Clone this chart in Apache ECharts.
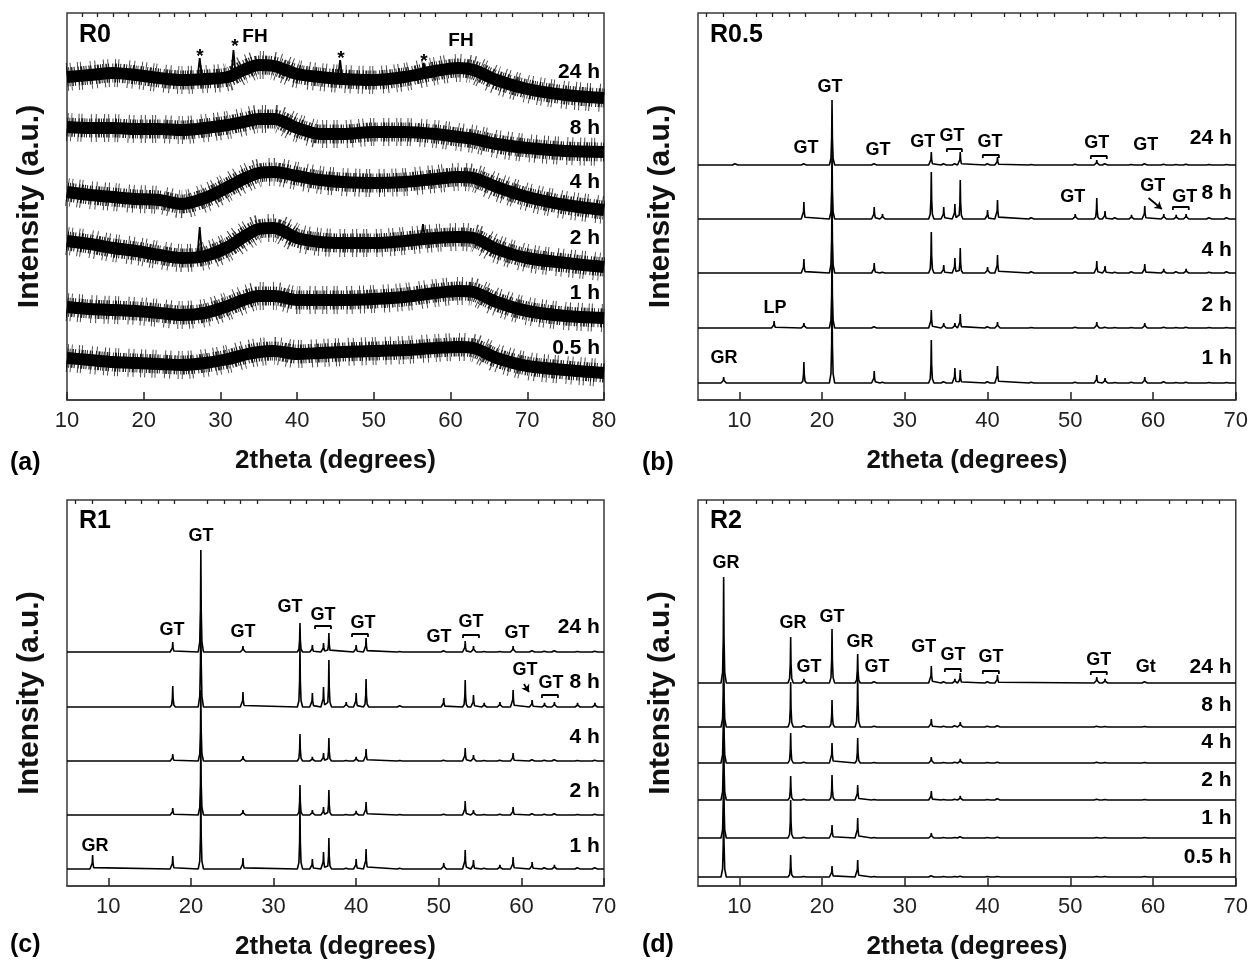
<!DOCTYPE html>
<html><head><meta charset="utf-8">
<script src="https://cdn.jsdelivr.net/npm/echarts@6/dist/echarts.min.js"></script>
<style>html,body{margin:0;padding:0;background:#fff}#c{width:1251px;height:962px}</style>
</head><body><div id="c"></div>
<script>
const FONT = "'Liberation Sans', Arial, Helvetica, sans-serif";
const INK = '#000';

// ---------- tick labels ----------
const ticksA = [10, 20, 30, 40, 50, 60, 70, 80];
const minorA = [12, 14, 16, 18, 22, 24, 26, 28, 32, 34, 36, 38, 42, 44, 46, 48, 52, 54, 56, 58, 62, 64, 66, 68, 72, 74, 76, 78];
const ticksB = [10, 20, 30, 40, 50, 60, 70];
const minorB = [6, 8, 12, 14, 16, 18, 22, 24, 26, 28, 32, 34, 36, 38, 42, 44, 46, 48, 52, 54, 56, 58, 62, 64, 66, 68];

// ---------- (a) R0 : broad ferrihydrite humps ----------
const r0Times = ['24 h', '8 h', '4 h', '2 h', '1 h', '0.5 h'];
const r0Theta = [10, 13, 16, 19, 22, 25, 28, 31, 33, 35, 37, 40, 43, 46, 50, 54, 58, 61, 63, 66, 70, 75, 80];
const r0_24h = [323, 325, 327, 325, 322, 320, 321, 323, 330, 335, 334, 326, 323, 321, 320, 323, 329, 332, 330, 320, 311, 305, 302];
const r0_8h  = [273, 272, 272, 271, 271, 270, 272, 275, 278, 281, 281, 272, 266, 266, 268, 268, 266, 263, 261, 256, 252, 249, 248];
const r0_4h  = [208, 205, 203, 201, 200, 196, 202, 213, 221, 227, 228, 224, 220, 218, 217, 218, 221, 223, 222, 213, 203, 195, 190];
const r0_2h  = [159, 156, 152, 149, 145, 142, 144, 153, 163, 171, 172, 162, 158, 157, 157, 159, 162, 163, 162, 151, 142, 137, 133];
const r0_1h  = [93, 91, 90, 89, 87, 85, 87, 94, 100, 104, 104, 100, 100, 100, 101, 103, 107, 109, 108, 98, 89, 84, 82];
const r0_05h = [42, 40, 38, 37, 36, 35, 37, 41, 45, 48, 49, 46, 47, 48, 49, 50, 52, 53, 52, 42, 34, 30, 27];
// sharp reflections (*): [2theta, base, top]
const r0Spikes = [[27.3, 321, 342], [31.7, 323, 350], [45.6, 321, 340], [56.5, 323, 337], [27.3, 144, 173], [56.4, 159, 176]];
const annotA = [[27.34, 343, '*'], [31.9, 353, '*'], [45.72, 341, '*'], [56.54, 338, '*'], [34.51, 363, 'FH'], [61.36, 359, 'FH']];
const timeA = [[79.48, 328, '24 h'], [79.48, 272, '8 h'], [79.48, 218, '4 h'], [79.48, 162, '2 h'], [79.48, 107, '1 h'], [79.48, 52, '0.5 h']];

// ---------- (b) R0.5 ----------
const bTimes = ['24 h', '8 h', '4 h', '2 h', '1 h'];
const bBase = [235, 181, 127, 72, 17];
const bPeaks = [8.1, 9.5, 14.2, 17.8, 21.2, 26.3, 27.3, 33.2, 34.7, 36.05, 36.7, 40.0, 41.2, 45.3, 50.6, 53.2, 54.2, 55.4, 57.4, 59.0, 61.3, 62.8, 64.0, 66.8, 68.9];
const b_24h = [0, 3, 0, 3, 65, 3, 0, 13, 3, 3, 13, 3, 8, 1, 2, 5, 3, 0, 1, 3, 2, 1, 2, 1, 1];
const b_8h  = [0, 0, 0, 17, 70, 12, 5, 47, 12, 15, 39, 9, 19, 3, 5, 21, 8, 3, 4, 13, 5, 4, 5, 3, 3];
const b_4h  = [0, 0, 0, 14, 83, 10, 2, 41, 8, 15, 25, 6, 18, 3, 3, 12, 7, 2, 3, 9, 4, 3, 4, 2, 3];
const b_2h  = [0, 0, 7, 5, 78, 3, 0, 18, 5, 5, 14, 3, 6, 1, 2, 6, 2, 1, 1, 5, 2, 1, 2, 1, 1];
const b_1h  = [6, 0, 0, 21, 93, 12, 2, 43, 3, 15, 13, 3, 17, 2, 2, 8, 5, 1, 2, 6, 3, 1, 2, 1, 1];
const annotB = [[18.05, 252, 'GT'], [20.95, 313, 'GT'], [26.75, 250, 'GT'], [32.18, 258, 'GT'], [35.69, 264, 'GT'], [40.28, 258, 'GT'], [53.21, 257, 'GT'], [59.13, 255, 'GT'],
  [50.31, 203, 'GT'], [59.97, 214, 'GT'], [63.84, 203, 'GT'], [14.30, 92, 'LP'], [8.14, 42, 'GR']];
const bracketB = [[35.08, 36.90, 251], [39.43, 41.37, 245], [52.48, 54.41, 244], [62.40, 64.32, 193]];
const arrowB = [[59.46, 202, 61.06, 191]];
const timeB = [[69.52, 262, '24 h'], [69.52, 207, '8 h'], [69.52, 150, '4 h'], [69.52, 95, '2 h'], [69.52, 42, '1 h']];

// ---------- (c) R1 ----------
const cTimes = ['24 h', '8 h', '4 h', '2 h', '1 h'];
const cBase = [234, 179, 125, 71, 17];
const cPeaks = [8.1, 17.8, 21.2, 26.3, 33.2, 34.7, 36.05, 36.7, 38.8, 40.0, 41.2, 45.3, 50.6, 53.2, 54.2, 55.5, 57.4, 59.0, 61.3, 62.8, 64.0, 66.8, 68.9];
const c_24h = [0, 10, 102, 6, 29, 7, 9, 19, 0, 7, 14, 1, 3, 11, 6, 1, 1, 6, 3, 2, 3, 1, 2];
const c_8h  = [0, 21, 107, 15, 62, 14, 20, 47, 5, 14, 28, 3, 9, 27, 12, 4, 5, 17, 7, 4, 5, 4, 4];
const c_4h  = [0, 7, 71, 5, 27, 4, 8, 23, 1, 4, 12, 1, 2, 13, 6, 1, 2, 8, 3, 2, 3, 1, 2];
const c_2h  = [0, 7, 75, 5, 30, 5, 8, 25, 1, 4, 13, 1, 2, 14, 5, 1, 2, 8, 3, 2, 3, 1, 2];
const c_1h  = [14, 13, 79, 11, 64, 10, 17, 31, 2, 10, 20, 2, 6, 19, 9, 2, 4, 12, 7, 3, 4, 3, 3];
const annotC = [[17.71, 256, 'GT'], [21.22, 350, 'GT'], [26.30, 254, 'GT'], [31.99, 279, 'GT'], [35.99, 271, 'GT'], [40.83, 263, 'GT'], [50.03, 249, 'GT'], [53.90, 264, 'GT'], [59.47, 253, 'GT'],
  [60.43, 216, 'GT'], [63.58, 203, 'GT'], [8.39, 40, 'GR']];
const bracketC = [[35.02, 36.95, 260], [39.50, 41.43, 252], [52.93, 54.87, 251], [62.49, 64.43, 191]];
const arrowC = [[60.31, 202, 60.92, 194]];
const timeC = [[69.5, 259, '24 h'], [69.5, 204, '8 h'], [69.5, 149, '4 h'], [69.5, 95, '2 h'], [69.5, 40, '1 h']];

// ---------- (d) R2 ----------
const dTimes = ['24 h', '8 h', '4 h', '2 h', '1 h', '0.5 h'];
const dBase = [203, 159, 123, 86, 48, 9];
const dPeaks = [8.1, 16.2, 17.8, 21.2, 24.3, 26.3, 33.2, 34.7, 36.05, 36.7, 40.0, 41.2, 53.2, 54.2, 59.0];
const d_24h = [106, 46, 4, 54, 29, 3, 17, 3, 4, 10, 3, 8, 6, 4, 3];
const d_8h  = [80, 45, 3, 27, 55, 2, 8, 2, 3, 5, 2, 3, 2, 1, 1];
const d_4h  = [80, 30, 2, 20, 25, 1, 6, 1, 2, 4, 1, 2, 2, 1, 1];
const d_2h  = [80, 24, 2, 25, 15, 1, 9, 1, 2, 4, 1, 3, 2, 1, 1];
const d_1h  = [80, 38, 2, 13, 20, 1, 5, 1, 1, 3, 1, 2, 1, 1, 1];
const d_05h = [80, 22, 1, 11, 17, 1, 3, 1, 1, 2, 1, 1, 1, 1, 1];
const annotD = [[8.38, 323, 'GR'], [16.48, 263, 'GR'], [18.41, 219, 'GT'], [21.19, 269, 'GT'], [24.57, 244, 'GR'], [26.63, 219, 'GT'], [32.30, 239, 'GT'], [35.81, 231, 'GT'], [40.40, 229, 'GT'], [53.45, 226, 'GT'], [59.13, 219, 'Gt']];
const bracketD = [[34.84, 36.77, 217], [39.43, 41.37, 215], [52.48, 54.41, 214]];
const timeD = [[69.5, 219, '24 h'], [69.5, 181, '8 h'], [69.5, 144, '4 h'], [69.5, 106, '2 h'], [69.5, 68, '1 h'], [69.5, 29, '0.5 h']];

// ================= build =================
const PROF_DX = [-0.32, -0.13, -0.045, 0, 0.045, 0.13, 0.32];
const PROF_FR = [0, 0.1, 0.42, 1, 0.42, 0.1, 0];
function peakTrace(xmin, xmax, base, peaks, heights) {
  const pts = [[xmin, base]];
  peaks.forEach((p, i) => {
    const h = heights[i];
    if (!h) return;
    PROF_DX.forEach((d, k) => pts.push([p + d, base + h * PROF_FR[k]]));
  });
  pts.push([xmax, base]);
  pts.sort((a, b) => a[0] - b[0]);
  return pts;
}

const grids = [
  { left: 67, top: 13, width: 537, height: 387 },
  { left: 698, top: 13, width: 538, height: 387 },
  { left: 67, top: 500, width: 537, height: 386 },
  { left: 698, top: 500, width: 538, height: 386 }
].map(g => Object.assign(g, { show: true, borderColor: '#3a3a3a', borderWidth: 1.5, backgroundColor: 'transparent' }));

const ranges = [[10, 80], [5, 70], [5, 70], [5, 70]];
const yMax = [387, 387, 386, 386];
const xAxis = [], yAxis = [];
ranges.forEach((r, g) => {
  const major = g === 0 ? ticksA : ticksB;
  const minor = g === 0 ? minorA : minorB;
  xAxis.push({
    gridIndex: g, type: 'value', min: r[0], max: r[1],
    axisLine: { show: true, lineStyle: { color: '#3a3a3a', width: 1.5 } },
    axisTick: { show: true, inside: true, length: 8, customValues: major, lineStyle: { color: '#222', width: 1.5 } },
    axisLabel: { show: true, customValues: major, fontSize: 22, color: '#222', fontFamily: FONT, margin: 10 },
    splitLine: { show: false },
    name: '2theta (degrees)', nameLocation: 'middle', nameGap: 48,
    nameTextStyle: { fontSize: 26, fontWeight: 'bold', color: '#111', fontFamily: FONT }
  });
  xAxis.push({
    gridIndex: g, type: 'value', min: r[0], max: r[1],
    axisLine: { show: false },
    axisTick: { show: true, inside: true, length: 4, customValues: minor, lineStyle: { color: '#222', width: 1.3 } },
    axisLabel: { show: false }, splitLine: { show: false }
  });
  yAxis.push({
    gridIndex: g, type: 'value', min: 0, max: yMax[g],
    axisLine: { show: false }, axisTick: { show: false }, axisLabel: { show: false }, splitLine: { show: false },
    name: 'Intensity (a.u.)', nameLocation: 'middle', nameGap: 22, nameRotate: 90,
    nameTextStyle: { fontSize: 30, fontWeight: 'bold', color: '#111', fontFamily: FONT }
  });
});

const series = [];
function lineS(g, data, opts) {
  series.push(Object.assign({
    type: 'line', xAxisIndex: 2 * g, yAxisIndex: g, data: data, showSymbol: false, symbol: 'none',
    lineStyle: { color: INK, width: 1.6 }, silent: true, animation: false, z: 3
  }, opts || {}));
}
function textS(g, items, fontSize, pos) {
  series.push({
    type: 'scatter', xAxisIndex: 2 * g, yAxisIndex: g, symbolSize: 0, silent: true, animation: false, z: 10,
    itemStyle: { opacity: 1, color: INK },
    data: items.map(a => ({ value: [a[0], a[1]], name: a[2] })),
    label: { show: true, formatter: '{b}', position: pos || 'inside', distance: 0, fontSize: fontSize, fontWeight: 'bold', color: INK, opacity: 1, fontFamily: FONT }
  });
}
function bracketS(g, list) {
  list.forEach(b => lineS(g, [[b[0], b[2] - 3], [b[0], b[2]], [b[1], b[2]], [b[1], b[2] - 3]], { lineStyle: { color: INK, width: 1.8 } }));
}
function arrowS(g, list) {
  series.push({
    type: 'lines', coordinateSystem: 'cartesian2d', xAxisIndex: 2 * g, yAxisIndex: g, silent: true, animation: false,
    symbol: ['none', 'arrow'], symbolSize: 7,
    lineStyle: { color: INK, width: 1.8, opacity: 1 },
    data: list.map(a => ({ coords: [[a[0], a[1]], [a[2], a[3]]] }))
  });
}

// (a) noisy bands drawn as a solid core plus irregular dashed fringes
const FRINGE_OUTER = [1, 3, 1, 6, 1, 2, 1, 9, 1, 4, 1, 7];
const FRINGE_INNER = [1, 1, 1, 2, 1.5, 1, 1, 3, 1, 1.5, 2, 1];
[r0_24h, r0_8h, r0_4h, r0_2h, r0_1h, r0_05h].forEach((vals, i) => {
  const data = r0Theta.map((t, k) => [t, vals[k]]);
  lineS(0, data, { name: r0Times[i] + ' fringe2', smooth: 0.3, lineStyle: { color: 'rgba(0,0,0,0.7)', width: 28, type: FRINGE_OUTER, cap: 'butt', join: 'round' } });
  lineS(0, data, { name: r0Times[i] + ' fringe1', smooth: 0.3, lineStyle: { color: 'rgba(0,0,0,0.85)', width: 19, type: FRINGE_INNER, cap: 'butt', join: 'round' } });
  lineS(0, data, { name: r0Times[i], smooth: 0.3, lineStyle: { color: '#000', width: 12, cap: 'butt', join: 'round' } });
});
r0Spikes.forEach(s => lineS(0, [[s[0] - 0.3, s[1]], [s[0], s[2]], [s[0] + 0.3, s[1]]], { lineStyle: { color: '#000', width: 1.8 } }));
textS(0, annotA.filter(a => a[2] === '*'), 19);
textS(0, annotA.filter(a => a[2] !== '*'), 19);
textS(0, timeA, 21, 'left');

// (b)
[b_24h, b_8h, b_4h, b_2h, b_1h].forEach((h, i) => lineS(1, peakTrace(5, 70, bBase[i], bPeaks, h), { name: 'R0.5 ' + bTimes[i] }));
textS(1, annotB, 18);
bracketS(1, bracketB);
arrowS(1, arrowB);
textS(1, timeB, 21, 'left');

// (c)
[c_24h, c_8h, c_4h, c_2h, c_1h].forEach((h, i) => lineS(2, peakTrace(5, 70, cBase[i], cPeaks, h), { name: 'R1 ' + cTimes[i] }));
textS(2, annotC, 18);
bracketS(2, bracketC);
arrowS(2, arrowC);
textS(2, timeC, 21, 'left');

// (d)
[d_24h, d_8h, d_4h, d_2h, d_1h, d_05h].forEach((h, i) => lineS(3, peakTrace(5, 70, dBase[i], dPeaks, h), { name: 'R2 ' + dTimes[i] }));
textS(3, annotD, 18);
bracketS(3, bracketD);
textS(3, timeD, 21, 'left');

const panelTitles = [['R0', 79, 35], ['R0.5', 710, 35], ['R1', 79, 521], ['R2', 710, 521]];
const panelTags = [['(a)', 10, 463], ['(b)', 642, 463], ['(c)', 10, 945], ['(d)', 642, 945]];
const graphic = [];
panelTitles.forEach(t => graphic.push({ type: 'text', x: t[1], y: t[2], silent: true,
  style: { text: t[0], fontSize: 25, fontWeight: 'bold', fontFamily: FONT, fill: INK, align: 'left', verticalAlign: 'middle' } }));
panelTags.forEach(t => graphic.push({ type: 'text', x: t[1], y: t[2], silent: true,
  style: { text: t[0], fontSize: 25, fontWeight: 'bold', fontFamily: FONT, fill: INK, align: 'left', verticalAlign: 'middle' } }));

const chart = echarts.init(document.getElementById('c'), null, { renderer: 'canvas' });
chart.setOption({ animation: false, backgroundColor: '#fff', grid: grids, xAxis: xAxis, yAxis: yAxis, series: series, graphic: graphic });
</script></body></html>
